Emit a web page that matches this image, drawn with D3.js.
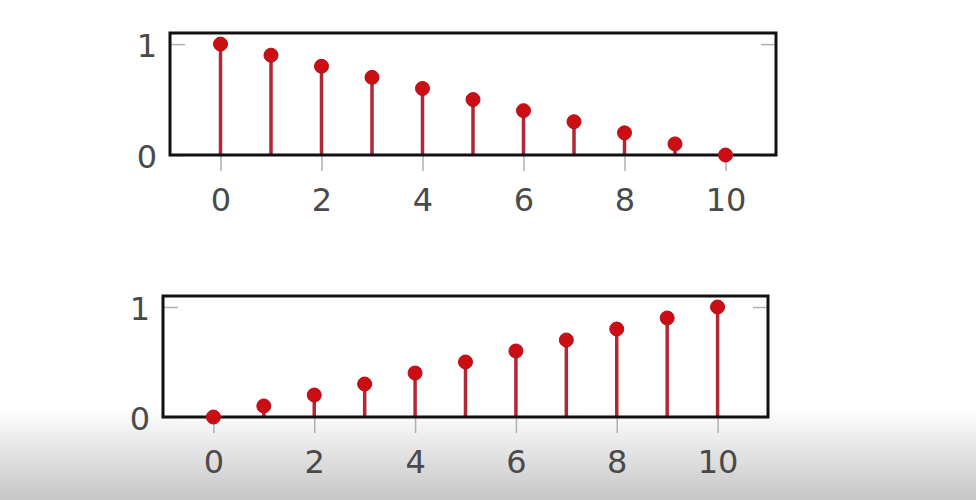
<!DOCTYPE html>
<html><head><meta charset="utf-8">
<script src="https://cdn.jsdelivr.net/npm/d3@7"></script>
<style>html,body{margin:0;padding:0;background:#fff;}svg{display:block;}</style>
</head><body>
<svg id="c" width="976" height="500"></svg>
<script>
const xs = [0,1,2,3,4,5,6,7,8,9,10];
const topValues = [1,0.9,0.8,0.7,0.6,0.5,0.4,0.3,0.2,0.1,0];
const bottomValues = [0,0.1,0.2,0.3,0.4,0.5,0.6,0.7,0.8,0.9,1];
const xTicks = [0,2,4,6,8,10];
const yTicks = [0,1];

const svg = d3.select("#c");
const defs = svg.append("defs");
const g = defs.append("linearGradient").attr("id","bg").attr("x1",0).attr("x2",0).attr("y1",0).attr("y2",1);
g.append("stop").attr("offset","0%").attr("stop-color","#ffffff");
g.append("stop").attr("offset","100%").attr("stop-color","#c6c6c6");
svg.append("rect").attr("x",0).attr("y",0).attr("width",976).attr("height",500).attr("fill","#fff");
svg.append("rect").attr("x",0).attr("y",408).attr("width",976).attr("height",92).attr("fill","url(#bg)");

function panel(values, left, right, top, bottom) {
  const x = d3.scaleLinear().domain([-1,11]).range([left,right]);
  const y = d3.scaleLinear().domain([0,1.1]).range([bottom,top]);
  const p = svg.append("g");
  p.append("g").attr("transform",`translate(0,${bottom})`)
    .call(d3.axisBottom(x).tickValues(xTicks).tickSize(16).tickPadding(17).tickFormat(d3.format("d")))
    .call(a=>{a.select(".domain").remove();
      a.selectAll("line").attr("stroke","#b0b0b0").attr("stroke-width",1.5);
      a.selectAll("text").attr("fill","#4a4a4a").attr("font-family","DejaVu Sans").attr("font-size",32);});
  p.append("g").attr("transform",`translate(${left},0)`)
    .call(d3.axisRight(y).tickValues(yTicks).tickSize(15).tickFormat(""))
    .call(a=>{a.select(".domain").remove();a.selectAll("line").attr("stroke","#b0b0b0").attr("stroke-width",1.5);});
  p.append("g").attr("transform",`translate(${right},0)`)
    .call(d3.axisLeft(y).tickValues(yTicks).tickSize(15).tickFormat(""))
    .call(a=>{a.select(".domain").remove();a.selectAll("line").attr("stroke","#b0b0b0").attr("stroke-width",1.5);});
  p.selectAll("text.yl").data(yTicks).join("text").attr("class","yl")
    .attr("x",left-13).attr("y",d=>y(d)+2).attr("text-anchor","end").attr("dominant-baseline","central")
    .attr("fill","#4a4a4a").attr("font-family","DejaVu Sans").attr("font-size",32).text(d=>d);
  p.selectAll("line.stem").data(values).join("line").attr("class","stem")
    .attr("x1",(d,i)=>x(xs[i])).attr("x2",(d,i)=>x(xs[i]))
    .attr("y1",y(0)).attr("y2",d=>y(d))
    .attr("stroke","#b32634").attr("stroke-width",3.5);
  p.append("rect").attr("x",left).attr("y",top).attr("width",right-left).attr("height",bottom-top)
    .attr("fill","none").attr("stroke","#111").attr("stroke-width",3);
  p.selectAll("circle").data(values).join("circle")
    .attr("cx",(d,i)=>x(xs[i])).attr("cy",d=>y(d)).attr("r",7)
    .attr("fill","#cc0e14").attr("stroke","#b01018").attr("stroke-width",1);
}
panel(topValues, 170, 776, 33, 155);
panel(bottomValues, 163, 768, 296, 417);
</script>
</body></html>
